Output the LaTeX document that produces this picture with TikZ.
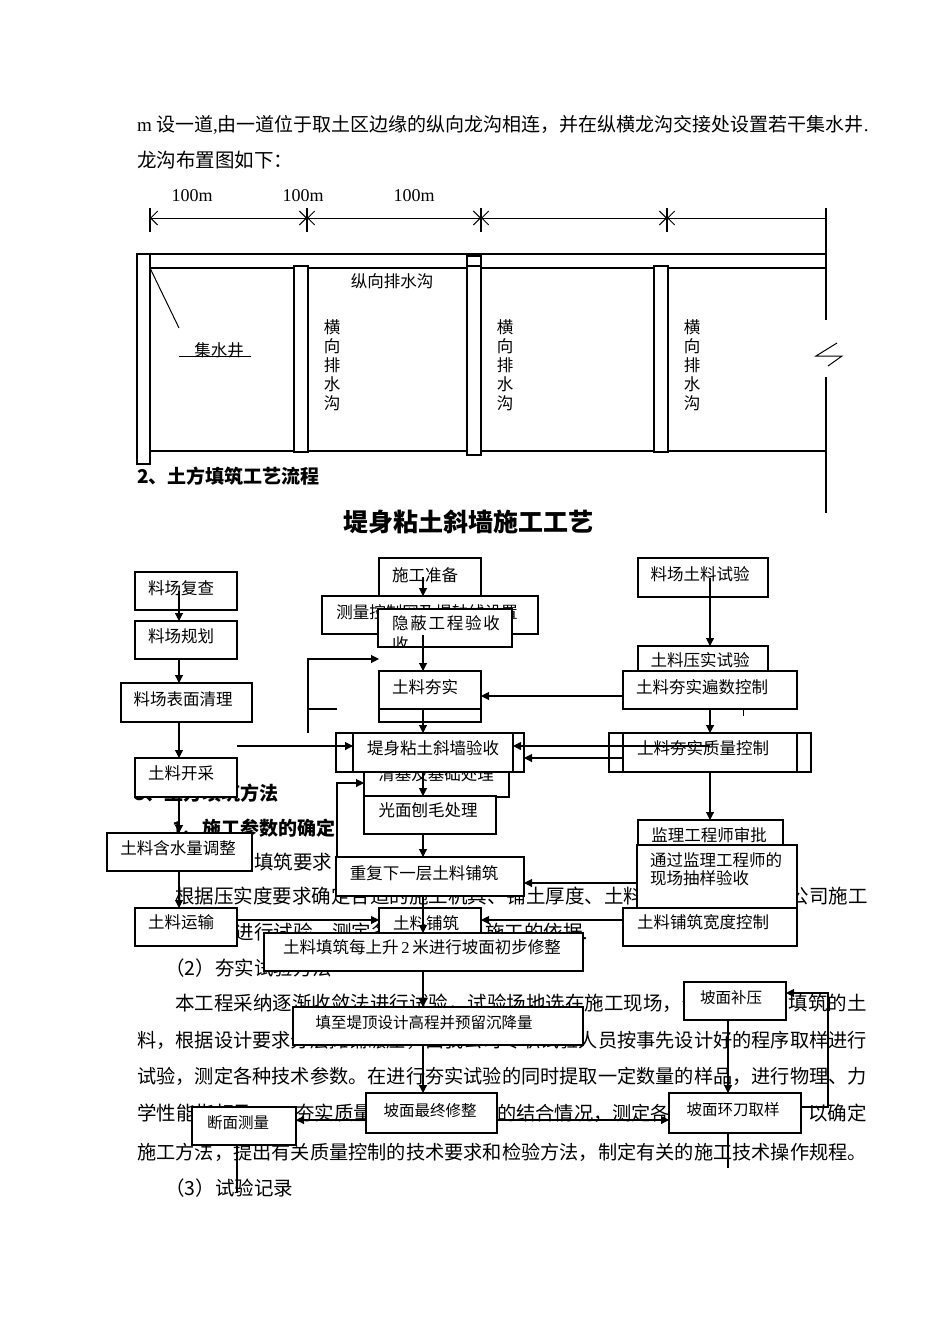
\documentclass[tikz,border=0pt]{standalone}
\usepackage{fontspec}
\setmainfont{Liberation Serif}
\newfontfamily\cjk{Noto Sans CJK SC}
\usetikzlibrary{arrows.meta}
\tikzset{
  bx/.style={draw, fill=white, line width=1.1pt, inner sep=0pt, outer sep=0pt},
  bxo/.style={draw, line width=1.1pt, inner sep=0pt, outer sep=0pt},
  ln/.style={line width=1.1pt},
  arr/.style={line width=1.1pt, -{Triangle[length=8pt,width=8pt]}},
  dimline/.style={line width=1pt, {Straight Barb[length=7pt,width=14pt]}-{Straight Barb[length=7pt,width=14pt]}},
  dimleft/.style={line width=1pt, {Straight Barb[length=7pt,width=14pt]}-},
  body/.style={inner sep=0pt, anchor=west, font=\cjk\fontsize{#1}{#1}\selectfont},
  body/.default=19.5,
  headb/.style={inner sep=0pt, anchor=west, font=\cjk\bfseries\fontsize{19}{19}\selectfont},
  lbl/.style={inner sep=0pt, font=\cjk\fontsize{16.5}{18}\selectfont},
  lbls/.style={inner sep=0pt, font=\cjk\fontsize{15.5}{17}\selectfont},
}
\newcommand\bx[6][bx]{\node[#1, minimum width={(#5)-(#3)}, minimum height={(#6)-(#4)}] (#2) at ({((#3)+(#5))/2},{((#4)+(#6))/2}) {};}
\begin{document}
\begin{tikzpicture}[x=1pt,y=-1pt]
\useasboundingbox (0,0) rectangle (950,1344);
\fill[white] (0,0) rectangle (950,1344);

% ---------------- body text ----------------
\node[body=19] (p1) at (137,125) {{\rmfamily m} 设一道{\rmfamily ,}由一道位于取土区边缘的纵向龙沟相连，并在纵横龙沟交接处设置若干集水井{\rmfamily .}};
\node[body] (p2) at (137,160) {龙沟布置图如下：};
\node[headb] (h1) at (137,476) {2、土方填筑工艺流程};
\node[inner sep=0pt, font=\cjk\bfseries\fontsize{25}{25}\selectfont] (title) at (468,522) {堤身粘土斜墙施工工艺};
\node[headb] (h2) at (134,793) {3、土方填筑方法};
\node[headb] (h3) at (172,828) {1、施工参数的确定};
\node[body] (p3) at (165,862) {（1）土料填筑要求};
\node[body] (p4) at (175,896) {根据压实度要求确定合适的施工机具、铺土厚度、土料含水};
\node[body, anchor=east] (p4b) at (868,896) {公司施工};
\node[body] (p5) at (137,932) {队技术人员进行试验，测定各项参数，};
\node[body] (p5b) at (485,932) {施工的依据{\rmfamily .}};
\node[body] (p6) at (165,968) {（2）夯实试验方法};
\node[body] (p7) at (175,1003) {本工程采纳逐渐收敛法进行试验，试验场地选在施工现场，使用};
\node[body, anchor=east] (p7b) at (867,1003) {的填筑的土};
\node[body=19.2] (p8) at (137,1040) {料，根据设计要求分层摊铺碾压，由我公司专职试验人员按事先设计好的程序取样进行};
\node[body=19.2] (p9) at (137,1076) {试验，测定各种技术参数。在进行夯实试验的同时提取一定数量的样品，进行物理、力};
\node[body] (p10a) at (137,1113) {学性能指标及};
\node[body] (p10b) at (295,1113) {夯实质量与含水};
\node[body=19.2] (p10c) at (497,1113) {的结合情况，测定各项参数};
\node[body, anchor=east] (p10d) at (867,1113) {以确定};
\node[body=19.2] (p11) at (137,1152) {施工方法，提出有关质量控制的技术要求和检验方法，制定有关的施工技术操作规程。};
\node[body] (p12) at (165,1188) {（3）试验记录};

% ---------------- drainage plan ----------------
\node[inner sep=0pt, font=\fontsize{18}{18}\selectfont] (d1) at (192,196) {100m};
\node[inner sep=0pt, font=\fontsize{18}{18}\selectfont] (d2) at (303,196) {100m};
\node[inner sep=0pt, font=\fontsize{18}{18}\selectfont] (d3) at (414,196) {100m};
\foreach \x in {150,307,481,667} \draw[ln] (\x,208) -- (\x,232);
\draw[dimline] (150,218) -- (307,218);
\draw[dimline] (307,218) -- (481,218);
\draw[dimline] (481,218) -- (667,218);
\draw[dimleft] (667,218) -- (826,218);
\draw[ln] (826,208) -- (826,320);
\draw[ln] (826,377) -- (826,513);
\draw[line width=1pt] (837,343) -- (816,356) -- (842,356) -- (828,366);
\draw[ln] (137,254) -- (826,254);
\draw[ln] (150,268) -- (826,268);
\draw[ln] (137,451) -- (826,451);
\draw[ln, fill=white] (137,254) rectangle (150,464);
\draw[ln, fill=white] (294,266) rectangle (308,452);
\draw[ln, fill=white] (467,256) rectangle (481,455);
\draw[ln] (467,266) -- (481,266);
\draw[ln, fill=white] (654,266) rectangle (668,452);
\draw[line width=1pt] (150,268) -- (179,328);
\node[lbl] (jsj) at (219,350) {集水井};
\draw[line width=1pt] (179,356) -- (251,356);
\node[lbl] (zx) at (392,281) {纵向排水沟};
\node[lbl, align=center, font=\cjk\fontsize{16.5}{19}\selectfont] (hx1) at (332,365) {横\\向\\排\\水\\沟};
\node[lbl, align=center, font=\cjk\fontsize{16.5}{19}\selectfont] (hx2) at (505,365) {横\\向\\排\\水\\沟};
\node[lbl, align=center, font=\cjk\fontsize{16.5}{19}\selectfont] (hx3) at (692,365) {横\\向\\排\\水\\沟};

% ---------------- flowchart boxes ----------------
% left column
\bx{b1}{135}{572}{237}{610}  \node[lbl] (tb1) at (181,588) {料场复查};
\bx{b2}{135}{621}{237}{659}  \node[lbl] (tb2) at (181,636) {料场规划};
\bx{b3}{121}{683}{252}{722}  \node[lbl] (tb3) at (183,699) {料场表面清理};
\bx{b4}{135}{758}{237}{797}  \node[lbl] (tb4) at (181,773) {土料开采};
\bx{b5}{107}{833}{252}{871}  \node[lbl] (tb5) at (178,848) {土料含水量调整};
\bx{b6}{135}{908}{237}{946}  \node[lbl] (tb6) at (181,922) {土料运输};
% middle column
\bx{m1}{379}{558}{481}{596}  \node[lbl] (tm1) at (425,575) {施工准备};
\bx{m2}{322}{596}{538}{634}  \node[lbl] (tm2) at (427,612) {测量控制网及堤轴线设置};
\bx{m3}{378}{609}{512}{647}  \node[lbl] (tm3) at (446,623) {隐\hspace{1.8pt}蔽\hspace{1.8pt}工\hspace{1.8pt}程\hspace{1.8pt}验\hspace{1.8pt}收};
\begin{scope}
  \clip (m3.north west) rectangle (m3.south east);
  \node[lbl, anchor=west] (tm3b) at (392,644) {收};
\end{scope}
\bx{mx}{379}{684}{481}{722}
\bx{m4}{379}{671}{481}{709}  \node[lbl] (tm4) at (425,687) {土料夯实};
\bx{m6}{364}{759}{509}{797}  \node[lbl] (tm6) at (436,774) {清基及基础处理};
\bx{dj}{336}{733}{524}{772}
\bx[bxo]{djin}{353}{733}{513}{772}
\node[lbl] (tdj) at (433,748) {堤身粘土斜墙验收};
\bx{m7}{364}{796}{496}{834}  \node[lbl] (tm7) at (428,810) {光面刨毛处理};
\bx{m8}{336}{857}{524}{896}  \node[lbl] (tm8) at (424,873) {重复下一层土料铺筑};
\bx{m9}{379}{908}{481}{946}  \node[lbl] (tm9) at (426,923) {土料铺筑};
\bx{m10}{264}{933}{583}{971} \node[lbl] (tm10) at (422,947) {土料填筑每上升{\rmfamily\,2\,}米进行坡面初步修整};
\bx{m11}{293}{1007}{583}{1045} \node[lbls] (tm11) at (424,1023) {填至堤顶设计高程并预留沉降量};
\bx{m12}{366}{1093}{497}{1133} \node[lbls] (tm12) at (430,1111) {坡面最终修整};
\bx{m13}{192}{1107}{296}{1145} \node[lbls] (tm13) at (238,1123) {断面测量};
% right column
\bx{r1}{638}{558}{768}{597}  \node[lbl] (tr1) at (700,574) {料场土料试验};
\bx{r2}{638}{646}{768}{684}  \node[lbl] (tr2) at (700,660) {土料压实试验};
\bx{r3}{623}{671}{797}{709}  \node[lbl] (tr3) at (702,687) {土料夯实遍数控制};
\bx{zl}{609}{733}{811}{772}
\bx[bxo]{zlin}{623}{733}{797}{772}
\node[lbl] (tzl) at (703,748) {土料夯实质量控制};
\bx{r5}{638}{820}{783}{858}  \node[lbl] (tr5) at (709,835) {监理工程师审批};
\bx{r6}{637}{845}{797}{908}
\node[lbl, anchor=west, align=left] (tr6) at (650,869) {通过监理工程师的\\现场抽样验收};
\bx{r7}{623}{908}{797}{946}  \node[lbl] (tr7) at (703,922) {土料铺筑宽度控制};
\bx{r8}{684}{982}{786}{1020} \node[lbls] (tr8) at (731,998) {坡面补压};
\bx{r9}{669}{1093}{801}{1133} \node[lbls] (tr9) at (733,1110) {坡面环刀取样};
\draw[line width=0.8pt] (743,709) -- (743,716);

% ---------------- connectors ----------------
\coordinate (lx) at (179,0);
\coordinate (sx) at (423,0);
\coordinate (rx) at (710,0);
\coordinate (qx) at (728,0);
\draw[arr] (lx |- b1.center) -- (lx |- b2.north);
\draw[arr] (lx |- b2.south) -- (lx |- b3.north);
\draw[arr] (lx |- b3.south) -- (lx |- b4.north);
\draw[arr] (lx |- b4.south) -- (lx |- b5.north);
\draw[arr] (lx |- b5.south) -- (lx |- b6.north);

\coordinate (y635) at (0,635);
\coordinate (y659) at (0,659);
\coordinate (y696) at (0,696);
\coordinate (y746) at (0,746);
\coordinate (y758) at (0,758);
\coordinate (y783) at (0,783);
\coordinate (y883) at (0,883);
\coordinate (y920) at (0,920);
\coordinate (y993) at (0,993);
\coordinate (y1107) at (0,1107);
\coordinate (y1120) at (0,1120);

\draw[arr] (sx |- m1.center) -- (sx |- m2.north);
\draw[arr] (sx |- y635) -- (sx |- m4.north);
\draw[arr] (sx |- m4.south) -- (sx |- dj.north);
\draw[arr] (sx |- dj.south) -- (sx |- m7.north);
\draw[arr] (sx |- m7.south) -- (sx |- m8.north);
\draw[arr] (sx |- m8.south) -- (sx |- m10.north);
\draw[arr] (sx |- m10.south) -- (sx |- m11.north);
\draw[arr] (sx |- m11.south) -- (sx |- m12.north);

\coordinate (k1) at (308,733);
\coordinate (k1t) at (308,659);
\draw[arr] (k1) -- (k1t) -- (m4.west |- y659);
\coordinate (s1) at (308,709);
\coordinate (s2) at (337,709);
\draw[ln] (s1) -- (s2);
\coordinate (k2) at (337,857);
\coordinate (k2t) at (337,783);
\draw[arr] (k2) -- (k2t) -- (m6.west |- y783);
\coordinate (fa) at (237,746);
\draw[arr] (fa) -- (djin.west |- y746);
\draw[arr] (b6.east |- y920) -- (m9.west |- y920);

\draw[arr] (rx |- r1.center) -- (rx |- r2.north);
\draw[arr] (r3.west |- y696) -- (m4.east |- y696);
\draw[arr] (rx |- r3.south) -- (rx |- zl.north);
\draw[arr] (rx |- y746) -- (djin.east |- y746);
\draw[arr] (zlin.west |- y758) -- (dj.east |- y758);
\draw[arr] (rx |- zl.south) -- (rx |- r5.north);
\draw[arr] (r6.west |- y883) -- (m8.east |- y883);
\draw[arr] (r7.west |- y920) -- (m9.east |- y920);

\draw[arr] (m12.west |- y1120) -- (m13.east |- y1120);
\draw[arr] (m12.east |- y1120) -- (r9.west |- y1120);
\coordinate (lp1) at (828,1107);
\coordinate (lp2) at (828,993);
\draw[arr] (r9.east |- y1107) -- (lp1) -- (lp2) -- (r8.east |- y993);
\draw[arr] (qx |- r8.south) -- (qx |- r9.north);
\coordinate (e1) at (728,1168);
\draw[ln] (qx |- r9.south) -- (e1);
\coordinate (e2x) at (237,0);
\coordinate (e2) at (237,1193);
\draw[ln] (e2x |- m13.south) -- (e2);
\end{tikzpicture}
\end{document}
